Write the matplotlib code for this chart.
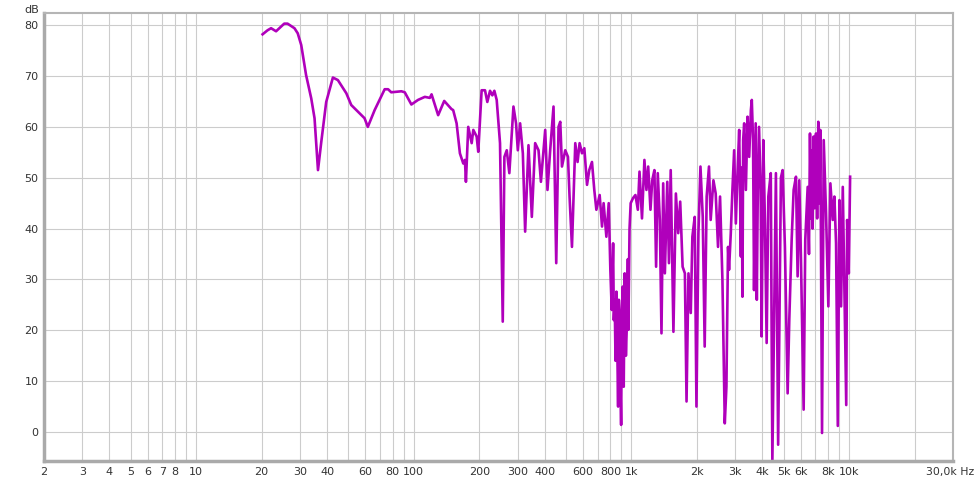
# Frequency response (REW style)
import matplotlib
matplotlib.use('Agg')
import matplotlib.pyplot as plt

freq = [20.2, 21.3, 22.1, 23.3, 25.4, 26.3, 28.3, 29.3, 30.4, 32.0, 33.8, 35.0, 36.3, 37.6, 39.6,
        42.5, 44.8, 49.0, 51.6, 55.4, 59.4, 61.5, 66.1, 73.5, 76.2, 78.8, 87.7, 90.9, 97.5, 104.6,
        112.4, 118.5, 120.7, 129.4, 138, 149, 151.7, 157.3, 162.9, 168.8, 171.8, 173.6, 177.9,
        184.5, 187.7, 194.5, 197.8, 205, 212.4, 217.7, 224, 229.6, 234.5, 240.4, 249, 256.3,
        260.8, 267.4, 274.8, 287, 295, 300.6, 308, 317, 324.8, 336.5, 348.6, 361.1, 374.2, 383.8,
        401.6, 411.4, 423.3, 438.5, 451.3, 462.4, 470.9, 479.5, 496.5, 510.9, 519.6, 533, 552,
        565.6, 577.8, 592.7, 607.5, 625, 640, 658.7, 675, 690, 714.4, 732.6, 745, 767, 786.4, 800,
        812, 823.7, 830, 837.6, 845, 853, 860, 868.5, 875, 880.7, 888, 896.6, 904, 912, 921.5, 931,
        943, 955, 963, 968, 980, 992, 1017, 1043, 1070, 1089, 1118, 1147, 1172, 1194, 1223, 1246,
        1275, 1298, 1321, 1350, 1374, 1399, 1424, 1461, 1487, 1515, 1559, 1600, 1640, 1675, 1718,
        1760, 1791, 1828, 1873, 1905, 1953, 1989, 2031, 2075, 2126, 2170, 2216, 2271, 2312, 2380,
        2438, 2499, 2553, 2618, 2684, 2731, 2778, 2808, 2860, 2910, 2964, 3017, 3071, 3126, 3182,
        3210, 3236, 3260, 3296, 3355, 3414, 3475, 3538, 3572, 3620, 3658, 3722, 3767, 3800, 3856,
        3924, 3963, 4034, 4106, 4180, 4255, 4366, 4440, 4610, 4720, 4860, 4949, 5071, 5219, 5310,
        5446, 5561, 5700, 5800, 5903, 6009, 6182, 6289, 6451, 6540, 6611, 6680, 6730, 6800, 6872,
        6950, 7046, 7130, 7219, 7300, 7374, 7509, 7645, 7834, 8029, 8202, 8411, 8557, 8710, 8872,
        9025, 9186, 9353, 9500, 9700, 9794, 9969, 10106]
db = [78.2, 79.0, 79.4, 78.8, 80.3, 80.3, 79.4, 78.4, 76.1, 70.2, 65.6, 61.7, 51.5, 57.1, 64.9,
      69.7, 69.2, 66.6, 64.3, 63.0, 61.7, 60.0, 63.3, 67.4, 67.4, 66.8, 67.0, 66.8, 64.4, 65.3,
      65.9, 65.7, 66.4, 62.3, 65.1, 63.5, 63.3, 60.7, 54.8, 52.8, 53.5, 49.2, 60.0,
      56.8, 59.4, 58.1, 55.1, 67.2, 67.2, 64.9, 67.1, 66.2, 67.1, 65.3, 56.8, 21.7,
      54.1, 55.4, 50.9, 64.0, 60.7, 55.4, 60.7, 54.8, 39.4, 56.4, 42.3, 56.8, 55.4, 49.2,
      59.4, 47.6, 55.4, 64.0, 33.2, 60.0, 61.0, 52.2, 55.4, 54.1, 46.3, 36.4, 56.8,
      53.1, 56.8, 54.8, 55.8, 48.6, 51.5, 53.1, 47.6, 43.7, 46.6, 40.4, 45.0, 38.4, 45.0, 31.9,
      24.0, 37.1, 22.0, 26.0, 14.0, 27.6, 18.0, 5.0, 26.0, 22.7, 12.0, 1.4, 24.0, 28.6, 8.9, 31.2,
      15.0, 22.7, 34.0, 20.1, 40.0, 45.0, 46.0, 46.6, 43.7, 51.2, 42.0, 53.5, 47.6, 52.2, 43.7, 49.5,
      51.5, 32.5, 50.9, 41.7, 19.4, 48.9, 31.2, 49.2, 33.2, 51.5, 19.7, 46.9, 39.1, 45.3, 32.5,
      31.2, 6.0, 31.2, 23.4, 38.4, 42.3, 5.0, 39.1, 52.2, 42.3, 16.8, 46.3, 52.2, 41.7, 49.5,
      46.9, 36.4, 46.3, 29.9, 1.7, 8.9, 36.4, 31.9, 39.1, 47.6, 55.4, 41.0, 50.9, 59.4, 34.5,
      52.0, 26.6, 57.4, 60.7, 47.6, 62.0, 54.1, 63.3, 65.3, 57.4, 27.9, 60.7, 26.0, 44.3, 60.0,
      47.6, 18.8, 57.4, 41.0, 17.5, 46.3, 50.9, -5.7, 50.9, -2.5, 50.0, 51.5, 36.4, 7.6, 22.0,
      37.8, 47.6, 50.2, 30.6, 49.5, 33.8, 4.4, 37.8, 48.2, 35.0, 58.7, 42.0, 55.4, 40.0, 58.1,
      44.0, 58.7, 42.0, 61.0, 45.0, 59.4, -0.2, 57.4, 43.0, 24.7, 48.9, 41.7, 46.3, 37.1, 1.2,
      45.6, 24.7, 48.2, 30.0, 5.3, 41.7, 31.2, 50.2]

y_ticks = [0, 10, 20, 30, 40, 50, 60, 70, 80]
x_major = [2, 3, 4, 5, 6, 7, 8, 10, 20, 30, 40, 60, 80, 100, 200, 300, 400, 600, 800,
           1000, 2000, 3000, 4000, 5000, 6000, 8000, 10000, 30000]
x_labels = ['2', '3', '4', '5', '6', '7', '8', '10', '20', '30', '40', '60', '80', '100', '200',
            '300', '400', '600', '800', '1k', '2k', '3k', '4k', '5k', '6k', '8k', '10k', '']
x_minor = [9, 50, 70, 90, 500, 700, 900, 7000, 9000, 20000]

fig = plt.figure(figsize=(9.75, 4.8), dpi=100)
ax = fig.add_axes([0.0451, 0.0396, 0.9323, 0.9334])

ax.plot(freq, db, color='#b000bb', linewidth=1.9)

ax.set_xscale('log')
ax.set_xlim(2, 30000)
ax.set_ylim(-5.7, 82.4)
ax.set_xticks(x_major)
ax.set_xticklabels(x_labels)
ax.set_xticks(x_minor, minor=True)
ax.set_yticks(y_ticks)
ax.grid(True, which='both', color='#cccccc', linewidth=0.8)
ax.set_axisbelow(True)
ax.tick_params(which='both', length=0, labelsize=8, colors='#333333', pad=4)

for s in ['left', 'bottom']:
    ax.spines[s].set_color('#aaaaaa')
    ax.spines[s].set_linewidth(2.5)
for s in ['top', 'right']:
    ax.spines[s].set_color('#b5b5b5')
    ax.spines[s].set_linewidth(1.5)

# last label sits against the right edge, like the original
fig.text(0.9995, 0.0396 - 0.0125, '30,0k Hz', ha='right', va='top', fontsize=7.8, color='#333333')
fig.text(0.033, 0.99, 'dB', ha='center', va='top', fontsize=8, color='#333333')

plt.savefig('out.png', dpi=100)
